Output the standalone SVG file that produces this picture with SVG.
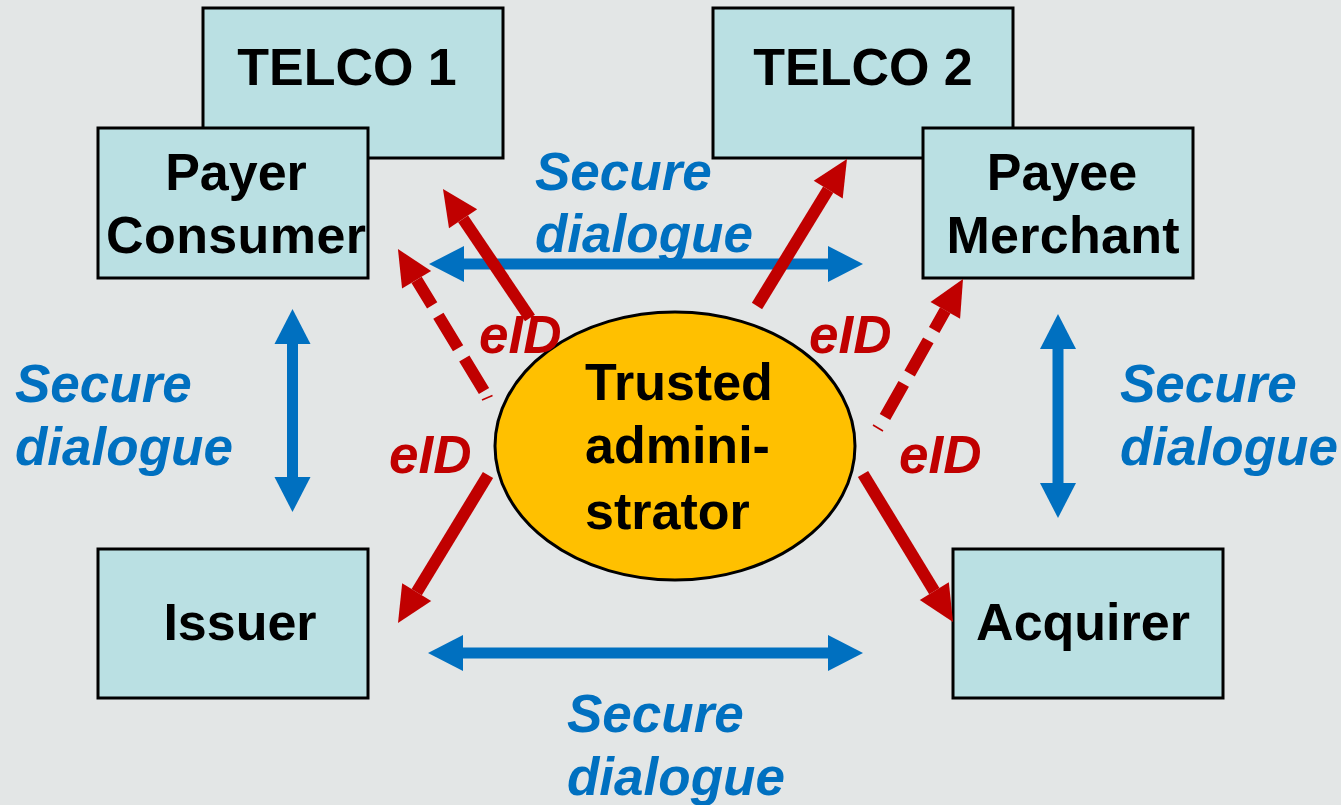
<svg xmlns="http://www.w3.org/2000/svg" width="1341" height="805" viewBox="0 0 1341 805">
<style>
.box{fill:#BAE0E3;stroke:#000;stroke-width:3}
.lbl{font-family:"Liberation Sans",Arial,sans-serif;font-weight:bold;font-size:52px;fill:#000}
.sd{font-family:"Liberation Sans",Arial,sans-serif;font-weight:bold;font-style:italic;font-size:53px;fill:#0070C0}
.eid{font-family:"Liberation Sans",Arial,sans-serif;font-weight:bold;font-style:italic;font-size:53px;fill:#C00000}
.blue{stroke:#0070C0;stroke-width:11;fill:none;marker-start:url(#hb);marker-end:url(#hb)}
.red{stroke:#C00000;stroke-width:12;fill:none;marker-end:url(#hr)}
.dash{stroke-dasharray:38 12}
.thin{stroke:#C00000;stroke-width:1.5}
</style>
<defs>
<marker id="hb" markerUnits="userSpaceOnUse" orient="auto-start-reverse" overflow="visible" markerWidth="1" markerHeight="1"><path d="M0,-18 L35,0 L0,18 Z" fill="#0070C0"/></marker>
<marker id="hr" markerUnits="userSpaceOnUse" orient="auto" overflow="visible" markerWidth="1" markerHeight="1"><path d="M0,-17 L36,0 L0,17 Z" fill="#C00000"/></marker>
</defs>
<rect x="0" y="0" width="1341" height="805" fill="#E3E6E6"/>
<g id="telco1"><rect class="box" x="203" y="8" width="300" height="150"/><text class="lbl" x="347" y="85" text-anchor="middle">TELCO 1</text></g>
<g id="payer"><rect class="box" x="98" y="128" width="270" height="150"/><text class="lbl" x="236" y="190" text-anchor="middle">Payer</text><text class="lbl" x="236" y="253" text-anchor="middle" textLength="260">Consumer</text></g>
<g id="telco2"><rect class="box" x="713" y="8" width="300" height="150"/><text class="lbl" x="863" y="85" text-anchor="middle">TELCO 2</text></g>
<g id="payee"><rect class="box" x="923" y="128" width="270" height="150"/><text class="lbl" x="1062" y="190" text-anchor="middle">Payee</text><text class="lbl" x="1063" y="253" text-anchor="middle" textLength="233">Merchant</text></g>
<g id="issuer"><rect class="box" x="98" y="549" width="270" height="149"/><text class="lbl" x="240" y="640" text-anchor="middle">Issuer</text></g>
<g id="acquirer"><rect class="box" x="953" y="549" width="270" height="149"/><text class="lbl" x="1083" y="640" text-anchor="middle">Acquirer</text></g>
<g id="connectors">
<line class="blue" x1="464" y1="264" x2="828" y2="264"/>
<line class="blue" x1="463" y1="653" x2="828" y2="653"/>
<line class="blue" x1="292.5" y1="344" x2="292.5" y2="477"/>
<line class="blue" x1="1058" y1="349" x2="1058" y2="483"/>
<line class="red" x1="530" y1="318" x2="463.1" y2="218.8"/>
<line class="red dash" x1="484" y1="391" x2="416.6" y2="279.8"/>
<line class="red" x1="757" y1="306" x2="828.2" y2="189.7"/>
<line class="red dash" x1="885" y1="417" x2="945.3" y2="310.3"/>
<line class="red" x1="488" y1="475" x2="416.7" y2="592.2"/>
<line class="red" x1="863" y1="474" x2="934.3" y2="591.2"/>
<line class="thin" x1="482" y1="400" x2="492.5" y2="395.5"/>
<line class="thin" x1="873" y1="425" x2="883" y2="431"/>
</g>
<g id="trusted">
<ellipse cx="675" cy="446" rx="180" ry="134" fill="#FFC000" stroke="#000" stroke-width="3"/>
<text class="lbl" x="585" y="400">Trusted</text>
<text class="lbl" x="585" y="463">admini-</text>
<text class="lbl" x="585" y="529">strator</text>
</g>
<g id="labels">
<text class="eid" x="479" y="353">eID</text>
<text class="eid" x="809" y="353">eID</text>
<text class="eid" x="389" y="473">eID</text>
<text class="eid" x="899" y="473">eID</text>
<text class="sd" x="535" y="190">Secure</text>
<text class="sd" x="535" y="252">dialogue</text>
<text class="sd" x="15" y="402">Secure</text>
<text class="sd" x="15" y="465">dialogue</text>
<text class="sd" x="1120" y="402">Secure</text>
<text class="sd" x="1120" y="465">dialogue</text>
<text class="sd" x="567" y="732">Secure</text>
<text class="sd" x="567" y="795">dialogue</text>
</g>
</svg>
